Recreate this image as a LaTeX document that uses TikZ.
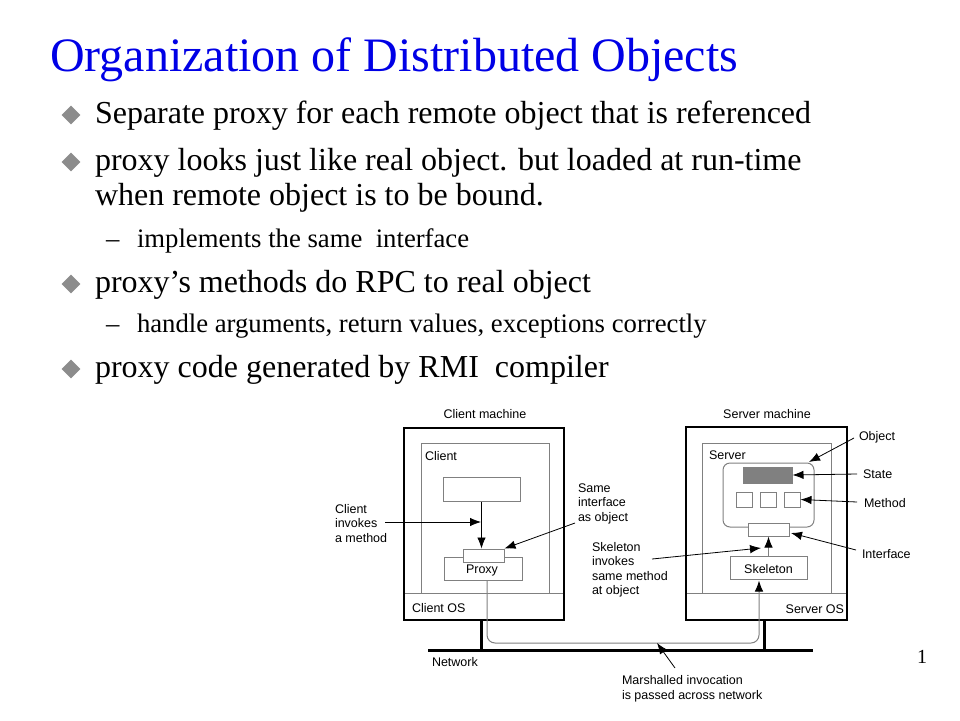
\documentclass[tikz,border=0pt]{standalone}
\usepackage{fontspec}
\setmainfont{Liberation Serif}
\newfontfamily\arialf{Liberation Sans}
\usetikzlibrary{arrows.meta,shapes.geometric}
\definecolor{titleblue}{RGB}{0,0,230}
\definecolor{bulletgray}{RGB}{140,140,140}
\definecolor{linegray}{RGB}{128,128,128}
\definecolor{stategray}{RGB}{128,128,128}
\newcommand{\mylines}[1]{\begin{tabular}[t]{@{}l@{}}#1\end{tabular}}
\begin{document}
\begin{tikzpicture}[x=1pt,y=-1pt,
  txt/.style={anchor=base west, inner sep=0pt, outer sep=0pt},
  titletxt/.style={txt, font=\fontsize{48}{52}\selectfont, text=titleblue},
  bullettxt/.style={txt, font=\fontsize{32}{35}\selectfont},
  subtxt/.style={txt, font=\fontsize{26.7}{30}\selectfont},
  bulletmark/.style={diamond, fill=bulletgray, inner sep=0pt, minimum width=19pt, minimum height=19pt},
  lbl/.style={anchor=base west, inner sep=0pt, outer sep=0pt, font=\arialf\fontsize{12.5}{14.5}\selectfont},
  outerbox/.style={draw=black, line width=2pt, inner sep=0pt},
  innerbox/.style={draw=linegray, line width=1pt, inner sep=0pt},
  greybox/.style={draw=linegray, line width=1pt, inner sep=0pt, fill=white, font=\arialf\fontsize{12.5}{14.5}\selectfont},
  netline/.style={draw=black, line width=3pt},
  lblarrow/.style={draw=black, line width=0.8pt, -{Latex[length=11pt,width=8.5pt]}},
  greyarrow/.style={draw=linegray, line width=1pt, -{Latex[length=11pt,width=8.5pt,color=black]}}
]
\useasboundingbox (0,0) rectangle (960,720);
\fill[white] (0,0) rectangle (960,720);

% ---------- text ----------
\node[titletxt] (title) at (50,71) {Organization of Distributed Objects};

\node[bulletmark] (d1) at (71,115) {};
\node[bullettxt] (b1) at (95,123) {Separate proxy for each remote object that is referenced};
\node[bulletmark] (d2) at (71,162) {};
\node[bullettxt] (b2) at (95,170) {proxy looks just like real object. but loaded at run-time};
\node[bullettxt] (b2b) at (95,205) {when remote object is to be bound.};
\node[subtxt] (s1d) at (106,247) {–};
\node[subtxt] (s1) at (137,247) {implements the same~ interface};
\node[bulletmark] (d3) at (71,284) {};
\node[bullettxt] (b3) at (95,292) {proxy’s methods do RPC to real object};
\node[subtxt] (s2d) at (106,332) {–};
\node[subtxt] (s2) at (137,332) {handle arguments, return values, exceptions correctly};
\node[bulletmark] (d4) at (71,369) {};
\node[bullettxt] (b4) at (95,377) {proxy code generated by RMI~ compiler};

\node[txt, font=\fontsize{20}{22}\selectfont] (pnum) at (917,663) {1};

% ---------- client machine ----------
\node[innerbox, minimum width=160pt, minimum height=27pt] (cos) at (484,606.5) {};
\node[innerbox, minimum width=128pt, minimum height=150pt] (cin) at (485,518) {};
\node[outerbox, minimum width=160pt, minimum height=192pt] (cm) at (484,524) {};
\node[greybox, minimum width=77pt, minimum height=24pt] (cbox) at (481.5,489) {};
\node[greybox, minimum width=78pt, minimum height=23pt] (proxy) at (483,568.5) {};
\node[greybox, minimum width=41pt, minimum height=13pt] (piface) at (483.5,555.5) {};
\node[lbl, anchor=base] (proxyt) at (482,573.5) {Proxy};

\node[lbl, anchor=base] (cmt) at (485,418) {Client machine};
\node[lbl] (clt) at (425,460) {Client};
\node[lbl] (cost) at (412,612) {Client OS};

% ---------- server machine ----------
\node[innerbox, minimum width=161pt, minimum height=27pt] (sos) at (766.5,606.5) {};
\node[innerbox, minimum width=129pt, minimum height=150pt] (sin) at (766.5,518) {};
\node[outerbox, minimum width=161pt, minimum height=193pt] (sm) at (766.5,523.5) {};
\node[greybox, rounded corners=7pt, minimum width=91pt, minimum height=64pt] (obj) at (768.5,495) {};
\node[greybox, fill=stategray, minimum width=49pt, minimum height=16pt] (state) at (767.5,475) {};
\node[greybox, minimum width=16pt, minimum height=15pt] (m1) at (744,499.5) {};
\node[greybox, minimum width=16pt, minimum height=15pt] (m2) at (768,499.5) {};
\node[greybox, minimum width=16pt, minimum height=15pt] (m3) at (792,499.5) {};
\node[greybox, minimum width=41pt, minimum height=13pt] (siface) at (768.5,529.5) {};
\node[greybox, minimum width=77pt, minimum height=23pt] (skel) at (768.5,567.5) {};
\node[lbl, anchor=base] (skelt) at (768.5,573) {Skeleton};

\node[lbl, anchor=base] (smt) at (767,418) {Server machine};
\node[lbl] (svt) at (709,459) {Server};
\node[lbl, anchor=base east] (sost) at (844,613) {Server OS};

% ---------- network ----------
\coordinate (netL) at (428,650);
\coordinate (netR) at (813,650);
\coordinate (cdrop) at (481,620);
\coordinate (sdrop) at (764,620);
\draw[netline] (netL) -- (netR);
\draw[netline] (cdrop) -- (cdrop |- netL);
\draw[netline] (sdrop) -- (sdrop |- netL);
\node[lbl] (nett) at (432,666.5) {Network};

% route of the invocation
\coordinate (r1) at (487,580);
\coordinate (rmid) at (620,643);
\coordinate (r3) at (759,580.5);
\draw[greyarrow, rounded corners=8pt] (r1) |- (rmid) -| (r3);

% inner arrows
\draw[lblarrow] (cbox.south) -- (cbox.south |- piface.north);
\draw[greyarrow] (skel.north) -- (siface.south);

% ---------- labels with arrows ----------
\node[lbl] (cinv) at (335,513) {\mylines{Client\\invokes\\a method}};
\coordinate (cinvS) at (385,522);
\coordinate (cinvT) at (481,522);
\draw[lblarrow] (cinvS) -- (cinvT);

\node[lbl] (same) at (578,492) {\mylines{Same\\interface\\as object}};
\coordinate (sameS) at (575,523);
\draw[lblarrow] (sameS) -- (piface.north east);

\node[lbl] (skinv) at (592,551) {\mylines{Skeleton\\invokes\\same method\\at object}};
\coordinate (skinvS) at (652,559);
\coordinate (skinvT) at (761,548);
\draw[lblarrow] (skinvS) -- (skinvT);

\node[lbl] (objt) at (859,440.5) {Object};
\coordinate (objS) at (854,438);
\coordinate (objT) at (809,462);
\draw[lblarrow] (objS) -- (objT);

\node[lbl] (statet) at (863,478.5) {State};
\coordinate (stateS) at (857,474);
\draw[lblarrow] (stateS) -- (state.east);

\node[lbl] (metht) at (864,507.5) {Method};
\coordinate (methS) at (857,502);
\draw[lblarrow] (methS) -- (m3.east);

\node[lbl] (ifacet) at (862,558.5) {Interface};
\coordinate (ifaceS) at (856,550);
\coordinate (ifaceT) at (791,533);
\draw[lblarrow] (ifaceS) -- (ifaceT);

\node[lbl] (marsh) at (622,684.5) {\mylines{Marshalled invocation\\is passed across network}};
\coordinate (marshS) at (675,668);
\coordinate (marshT) at (657,643);
\draw[lblarrow] (marshS) -- (marshT);
\end{tikzpicture}
\end{document}
